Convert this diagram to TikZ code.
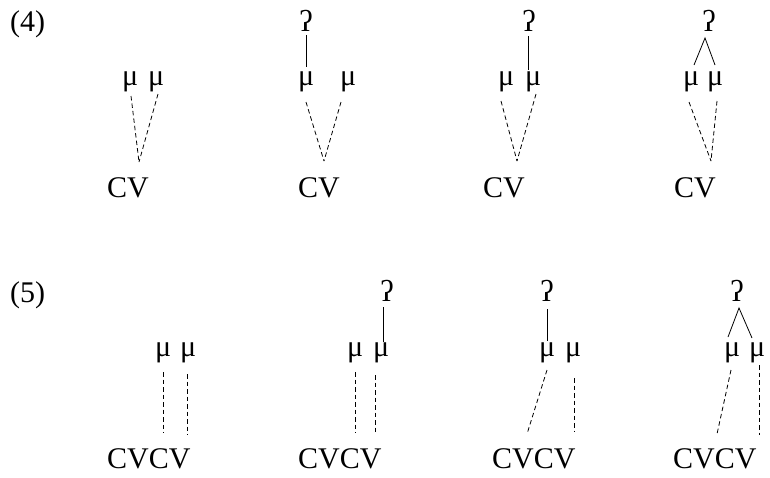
\documentclass[tikz,border=0pt]{standalone}
\usepackage{fontspec}
\setmainfont{Liberation Serif}
\begin{document}
\begin{tikzpicture}[x=1pt,y=-1pt,
  txt/.style={inner sep=0pt, anchor=base west, font=\fontsize{30}{36}\selectfont},
  gs/.style={inner sep=0pt, anchor=base, font=\fontsize{30}{36}\selectfont},
  dl/.style={dash pattern=on 4.5pt off 3pt, line width=0.8pt},
  sl/.style={line width=0.8pt}]
\useasboundingbox (0,0) rectangle (770,477);
\begin{scope}[yshift=5pt]
% ---------- (4) ----------
\node[txt] (n4) at (10,36) {(4)};
% diagram 1
\node[txt] (a1m1) at (122,90) {μ};
\node[txt] (a1m2) at (148,90) {μ};
\node[txt] (a1cv) at (107,202) {CV};
\coordinate (a1t1) at (131,101); \coordinate (a1t2) at (158,99);
\coordinate (a1j) at (139,167);
\draw[dl] (a1t1) -- (a1j); \draw[dl] (a1t2) -- (a1j);
% diagram 2
\node[gs] (a2g) at (306,36) {ʔ};
\node[txt] (a2m1) at (298,90) {μ};
\node[txt] (a2m2) at (340,90) {μ};
\node[txt] (a2cv) at (298,202) {CV};
\coordinate (a2s) at (306,40); \coordinate (a2e) at (306,72);
\draw[sl] (a2s) -- (a2e);
\coordinate (a2t1) at (306,107); \coordinate (a2t2) at (341,107);
\coordinate (a2j) at (324,166);
\draw[dl] (a2t1) -- (a2j); \draw[dl] (a2t2) -- (a2j);
% diagram 3
\node[gs] (a3g) at (529,36) {ʔ};
\node[txt] (a3m1) at (498,90) {μ};
\node[txt] (a3m2) at (525,90) {μ};
\node[txt] (a3cv) at (483,202) {CV};
\coordinate (a3s) at (528,41); \coordinate (a3e) at (528,75);
\draw[sl] (a3s) -- (a3e);
\coordinate (a3t1) at (501,106); \coordinate (a3t2) at (536,99);
\coordinate (a3j) at (517,166);
\draw[dl] (a3t1) -- (a3j); \draw[dl] (a3t2) -- (a3j);
% diagram 4
\node[gs] (a4g) at (709,36) {ʔ};
\node[txt] (a4m1) at (683,90) {μ};
\node[txt] (a4m2) at (707,90) {μ};
\node[txt] (a4cv) at (674,202) {CV};
\coordinate (a4s) at (705,43); \coordinate (a4e1) at (694,70); \coordinate (a4e2) at (715,70);
\draw[sl] (a4e1) -- (a4s) -- (a4e2);
\coordinate (a4t1) at (689,107); \coordinate (a4t2) at (717,106);
\coordinate (a4j) at (711,166);
\draw[dl] (a4t1) -- (a4j); \draw[dl] (a4t2) -- (a4j);
% ---------- (5) ----------
\node[txt] (n5) at (10,307) {(5)};
% diagram 5
\node[txt] (b1m1) at (155,361) {μ};
\node[txt] (b1m2) at (180,361) {μ};
\node[txt] (b1cv) at (107,473) {CVCV};
\coordinate (b1t1) at (163,377); \coordinate (b1b1) at (163,438);
\coordinate (b1t2) at (187,379); \coordinate (b1b2) at (187,440);
\draw[dl] (b1t1) -- (b1b1); \draw[dl] (b1t2) -- (b1b2);
% diagram 6
\node[gs] (b2g) at (387,306) {ʔ};
\node[txt] (b2m1) at (347,361) {μ};
\node[txt] (b2m2) at (373,361) {μ};
\node[txt] (b2cv) at (298,473) {CVCV};
\coordinate (b2s) at (383,312); \coordinate (b2e) at (383,347);
\draw[sl] (b2s) -- (b2e);
\coordinate (b2t1) at (355,377); \coordinate (b2b1) at (355,438);
\coordinate (b2t2) at (375,380); \coordinate (b2b2) at (375,438);
\draw[dl] (b2t1) -- (b2b1); \draw[dl] (b2t2) -- (b2b2);
% diagram 7
\node[gs] (b3g) at (547,306) {ʔ};
\node[txt] (b3m1) at (539,361) {μ};
\node[txt] (b3m2) at (565,361) {μ};
\node[txt] (b3cv) at (492,473) {CVCV};
\coordinate (b3s) at (547,314); \coordinate (b3e) at (547,346);
\draw[sl] (b3s) -- (b3e);
\coordinate (b3t1) at (547,375); \coordinate (b3b1) at (527,439);
\coordinate (b3t2) at (574,383); \coordinate (b3b2) at (574,436);
\draw[dl] (b3t1) -- (b3b1); \draw[dl] (b3t2) -- (b3b2);
% diagram 8
\node[gs] (b4g) at (737,306) {ʔ};
\node[txt] (b4m1) at (724,361) {μ};
\node[txt] (b4m2) at (749,361) {μ};
\node[txt] (b4cv) at (673,473) {CVCV};
\coordinate (b4s) at (739,313); \coordinate (b4e1) at (728,342); \coordinate (b4e2) at (752,343);
\draw[sl] (b4e1) -- (b4s) -- (b4e2);
\coordinate (b4t1) at (731,375); \coordinate (b4b1) at (717,439);
\coordinate (b4t2) at (759,370); \coordinate (b4b2) at (759,440);
\draw[dl] (b4t1) -- (b4b1); \draw[dl] (b4t2) -- (b4b2);
\end{scope}
\end{tikzpicture}
\end{document}
